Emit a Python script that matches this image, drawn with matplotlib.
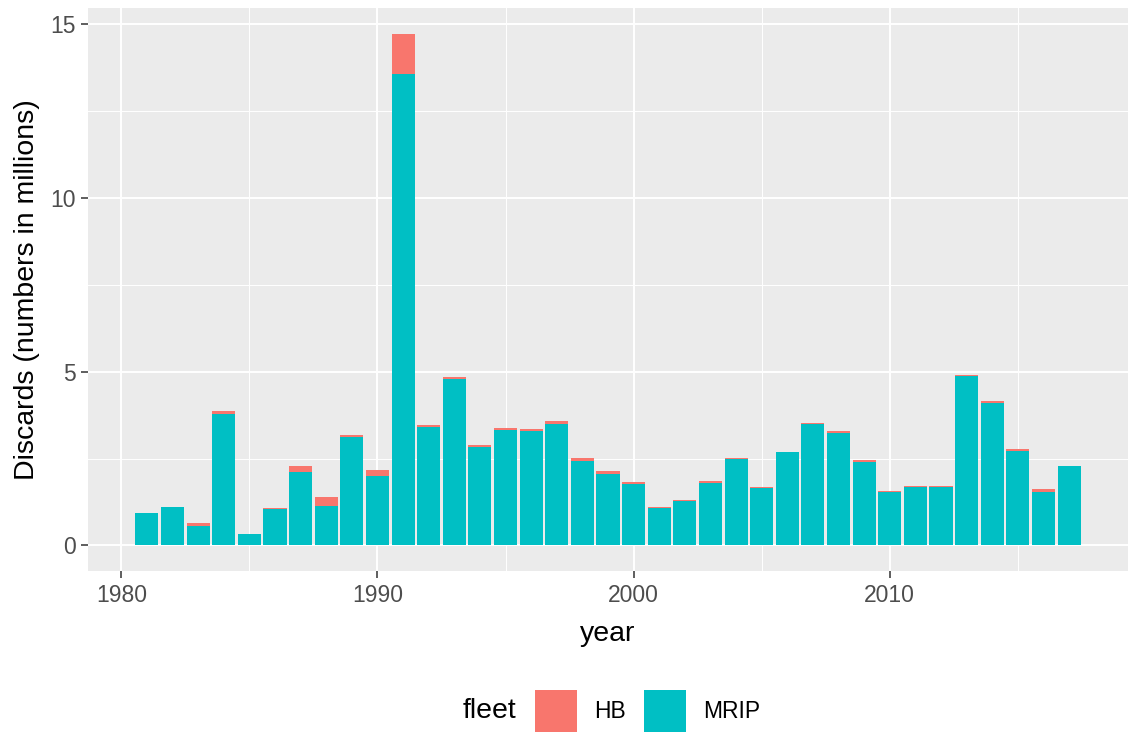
import numpy as np
import matplotlib
matplotlib.use("Agg")
import matplotlib.pyplot as plt
from matplotlib.ticker import MultipleLocator

plt.rcParams['font.family'] = ['Liberation Sans', 'DejaVu Sans']

years = list(range(1981, 2018))
# values, in millions
mrip = [0.93, 1.12, 0.57, 3.78, 0.34, 1.05, 2.11, 1.13, 3.12, 2.00,
        13.56, 3.41, 4.78, 2.82, 3.33, 3.28, 3.49, 2.44, 2.07, 1.78,
        1.09, 1.27, 1.81, 2.50, 1.65, 2.68, 3.49, 3.24, 2.41, 1.54,
        1.67, 1.67, 4.89, 4.09, 2.72, 1.55, 2.29]
total = [0.94, 1.12, 0.65, 3.86, 0.34, 1.07, 2.30, 1.40, 3.17, 2.18,
         14.73, 3.48, 4.84, 2.90, 3.38, 3.34, 3.58, 2.53, 2.14, 1.82,
         1.12, 1.32, 1.86, 2.52, 1.68, 2.70, 3.51, 3.28, 2.45, 1.57,
         1.70, 1.72, 4.92, 4.15, 2.79, 1.62, 2.30]
hb = [t - m for t, m in zip(total, mrip)]

col_hb = "#F8766D"
col_mrip = "#00BFC4"

fig = plt.figure(figsize=(11.28, 7.34), dpi=100)
ax = fig.add_axes([88 / 1128, 1 - 571 / 734, 1040 / 1128, 563 / 734])
ax.set_facecolor("#EBEBEB")

b_mrip = ax.bar(years, mrip, width=0.9, color=col_mrip, label="MRIP", zorder=3)
b_hb = ax.bar(years, hb, bottom=mrip, width=0.9, color=col_hb, label="HB", zorder=3)

ax.set_xlim(1978.7, 2019.3)
ax.set_ylim(-0.736, 15.47)
ax.xaxis.set_major_locator(MultipleLocator(10))
ax.xaxis.set_minor_locator(MultipleLocator(5))
ax.yaxis.set_major_locator(MultipleLocator(5))
ax.yaxis.set_minor_locator(MultipleLocator(2.5))
ax.grid(which="major", color="white", linewidth=1.4, zorder=1)
ax.grid(which="minor", color="white", linewidth=0.7, zorder=1)
for s in ax.spines.values():
    s.set_visible(False)
ax.tick_params(which="major", length=5, width=1.1, color="#333333",
               labelsize=16.5, labelcolor="#4D4D4D", pad=4)
ax.tick_params(which="minor", length=0)

ax.set_xlabel("year", fontsize=20.5, va="center")
ax.set_ylabel("Discards (numbers in millions)", fontsize=20.5, va="center")
ax.xaxis.set_label_coords(0.5, (571 - 634) / 563)
ax.yaxis.set_label_coords((27 - 88) / 1040, 0.5)

fig.text(463 / 1128, 1 - 711 / 734, "fleet", fontsize=20.5, va="center", ha="left")
fig.legend(handles=[b_hb, b_mrip], labels=["HB", "MRIP"], ncol=2,
           loc="center left", bbox_to_anchor=(535 / 1128, 1 - 711 / 734),
           frameon=False, fontsize=16.5, handlelength=1.83, handleheight=2.4,
           handletextpad=0.75, columnspacing=0.8, borderpad=0, borderaxespad=0)

fig.savefig("out.png", dpi=100)
